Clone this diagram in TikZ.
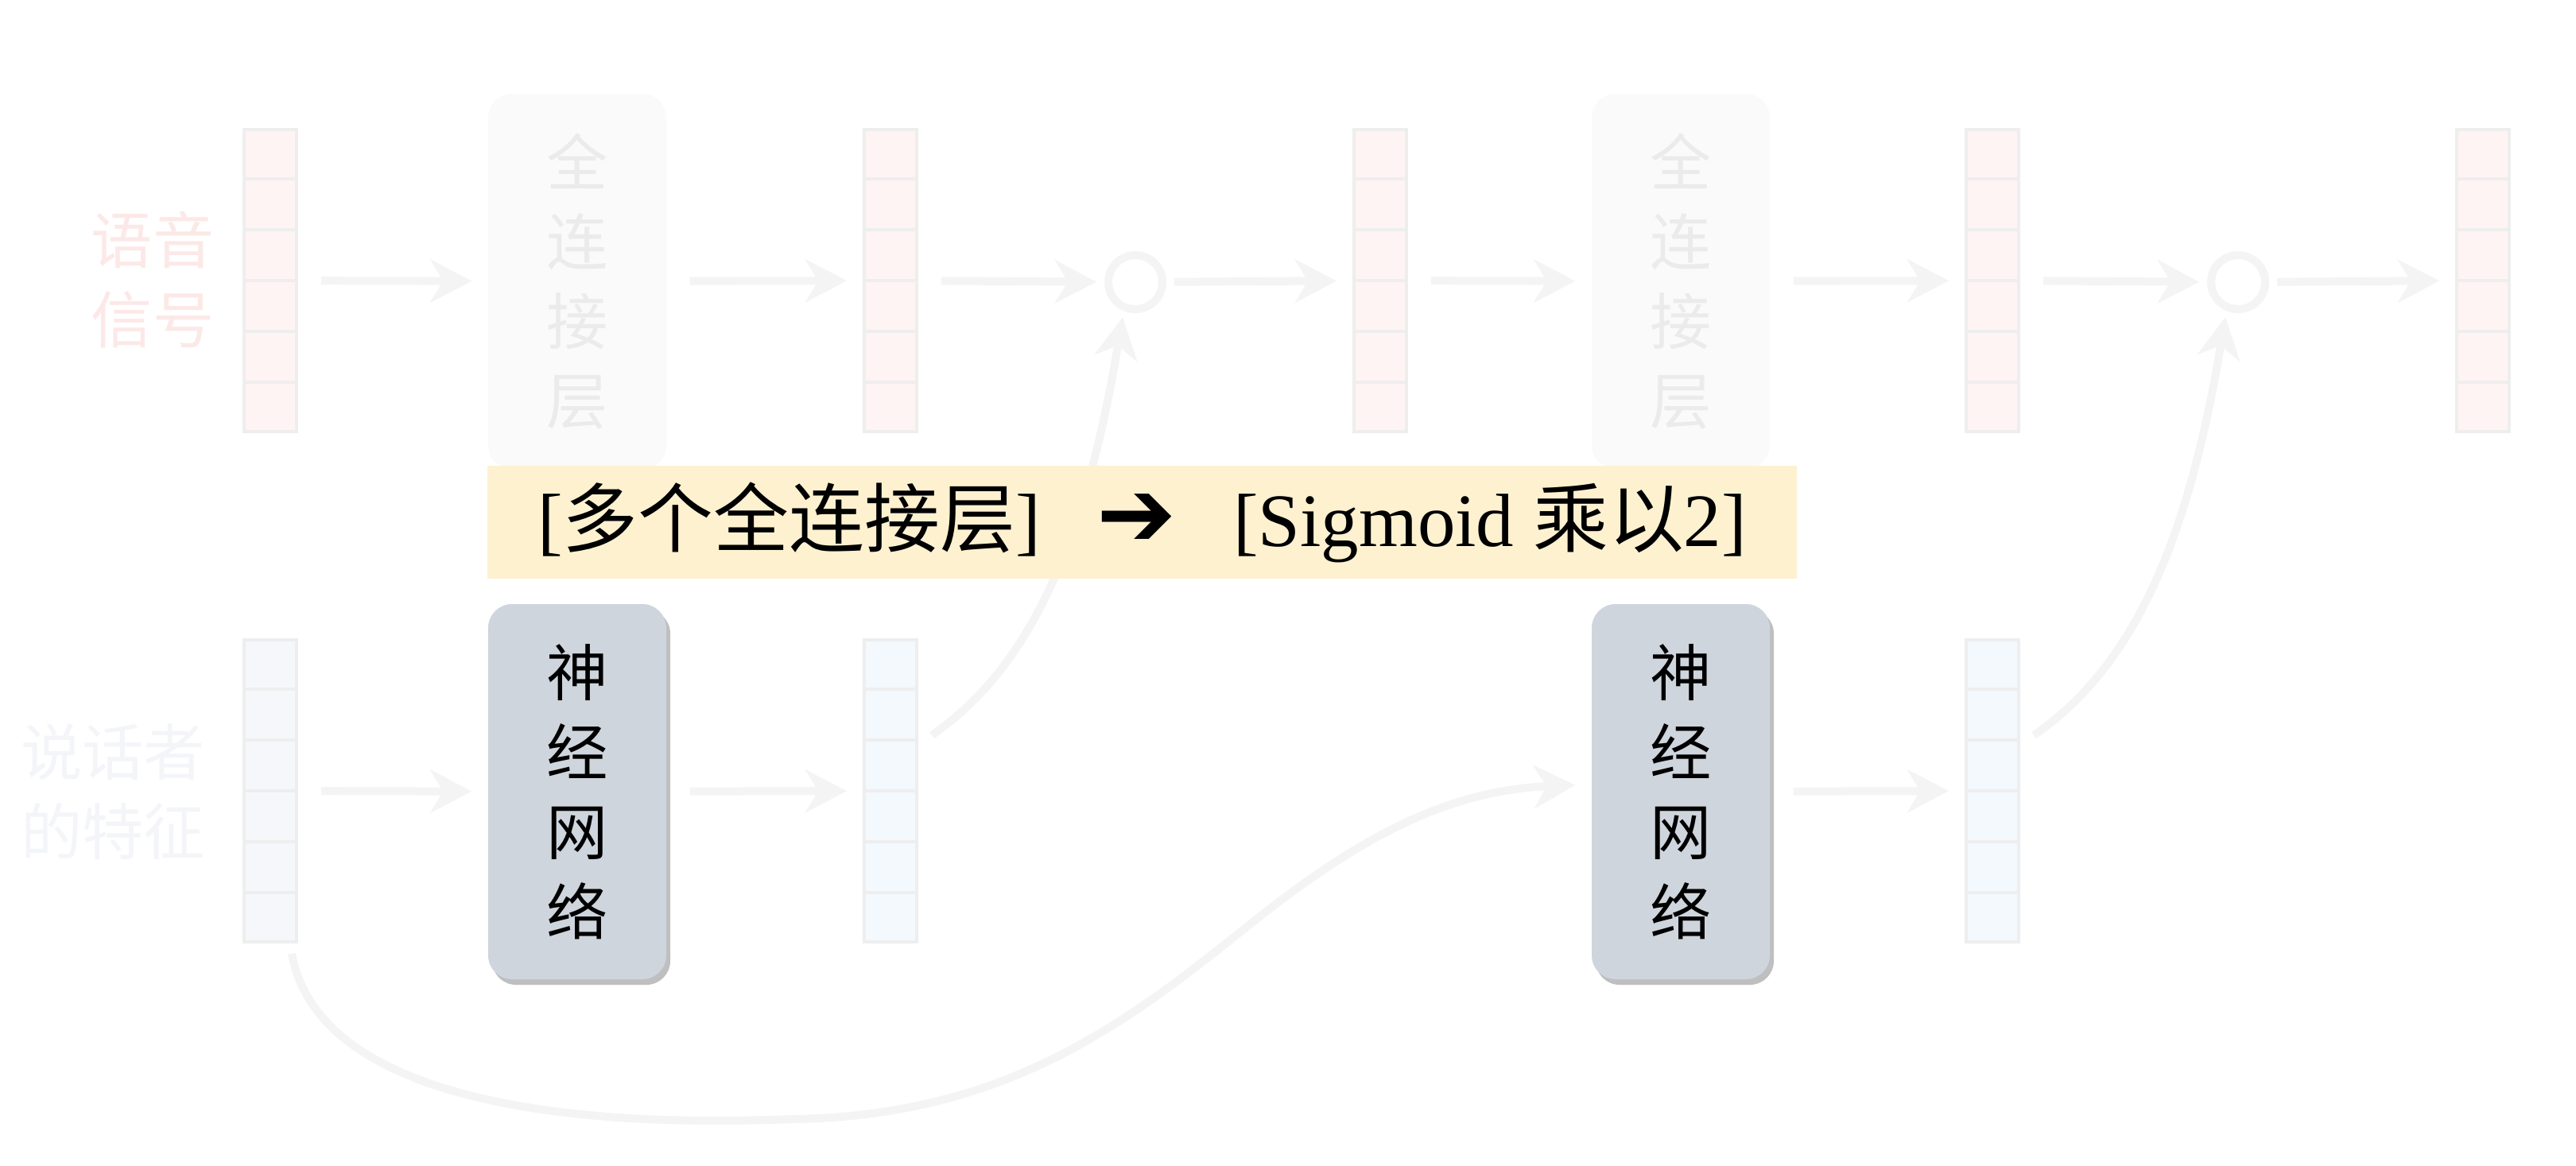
\documentclass[tikz,border=0pt]{standalone}
\usepackage{fontspec}
\setmainfont{Liberation Serif}
\newfontfamily\cjk{Noto Sans CJK SC}
\newfontfamily\symfont{DejaVu Sans}
\usetikzlibrary{arrows.meta,calc,shadows}

\definecolor{sigred}{RGB}{254,244,243}
\definecolor{sigtxt}{RGB}{252,233,231}
\definecolor{spkblue}{RGB}{245,247,251}
\definecolor{spkblue2}{RGB}{243,249,253}
\definecolor{spktxt}{RGB}{243,245,249}
\definecolor{cellline}{RGB}{238,238,238}
\definecolor{flowgray}{RGB}{244,244,244}
\definecolor{fcfill}{RGB}{250,250,250}
\definecolor{fctxt}{RGB}{235,235,235}
\definecolor{baryellow}{RGB}{253,241,208}
\definecolor{nnfill}{RGB}{207,213,221}

\tikzset{
  vecbox/.style={draw=cellline, line width=0.04cm, minimum width=0.66cm,
    minimum height=3.8cm, inner sep=0pt},
  layerbox/.style={rounded corners=0.3cm, minimum width=2.24cm, minimum height=4.72cm,
    inner sep=0pt, align=center, font=\cjk\fontsize{22}{28.5}\selectfont},
  sidelabel/.style={align=center, font=\cjk\fontsize{22}{28.5}\selectfont},
  flow/.style={draw=flowgray, line width=0.1cm,
    -{Stealth[length=5.2mm,width=5.4mm,inset=1.6mm]},
    shorten <=0.29cm, shorten >=0.2cm},
  mult/.style={circle, draw=flowgray, line width=0.1cm, minimum size=0.68cm, inner sep=0pt},
}

\begin{document}
\begin{tikzpicture}
\useasboundingbox[fill=white] (0,0) rectangle (32.4,-14.66);

\node[sidelabel, text=sigtxt] (lsig) at (1.92,-3.52) {语音\\信号};
\node[sidelabel, text=spktxt] (lspk) at (1.42,-9.96) {说话者\\的特征};

\node[vecbox, fill=sigred] (sp1) at (3.40,-3.53) {};
\node[vecbox, fill=sigred] (sp2) at (11.20,-3.53) {};
\node[vecbox, fill=sigred] (sp3) at (17.36,-3.53) {};
\node[vecbox, fill=sigred] (sp4) at (25.06,-3.53) {};
\node[vecbox, fill=sigred] (sp5) at (31.23,-3.53) {};
\node[vecbox, fill=spkblue] (spk1) at (3.40,-9.95) {};
\node[vecbox, fill=spkblue2] (spk2) at (11.20,-9.95) {};
\node[vecbox, fill=spkblue2] (spk3) at (25.06,-9.95) {};
\foreach \v in {sp1,sp2,sp3,sp4,sp5,spk1,spk2,spk3}
  \foreach \k in {1,...,5}
    \draw[cellline, line width=0.04cm] ($(\v.north west)!\k/6!(\v.south west)$)
      -- ($(\v.north east)!\k/6!(\v.south east)$);

\node[layerbox, fill=fcfill, text=fctxt] (fc1) at (7.26,-3.54) {全\\连\\接\\层};
\node[layerbox, fill=fcfill, text=fctxt] (fc2) at (21.14,-3.54) {全\\连\\接\\层};
\node[layerbox, fill=nnfill,
  drop shadow={shadow xshift=0.05cm, shadow yshift=-0.07cm, fill=black, opacity=0.25}]
  (nn1) at (7.26,-9.96) {神\\经\\网\\络};
\node[layerbox, fill=nnfill,
  drop shadow={shadow xshift=0.05cm, shadow yshift=-0.07cm, fill=black, opacity=0.25}]
  (nn2) at (21.14,-9.96) {神\\经\\网\\络};

\node[mult] (o1) at (14.28,-3.55) {};
\node[mult] (o2) at (28.15,-3.55) {};

\draw[flow] (sp1) -- (fc1);
\draw[flow] (fc1) -- (sp2);
\draw[flow, shorten >=0.1cm] (sp2) -- (o1);
\draw[flow, shorten <=0.1cm] (o1) -- (sp3);
\draw[flow] (sp3) -- (fc2);
\draw[flow] (fc2) -- (sp4);
\draw[flow, shorten >=0.1cm] (sp4) -- (o2);
\draw[flow, shorten <=0.1cm] (o2) -- (sp5);

\draw[flow] (spk1) -- (nn1);
\draw[flow] (nn1) -- (spk2);
\draw[flow] (nn2) -- (spk3);

\coordinate (c1) at ($(spk1.south east)+(-0.08,-0.13)$);
\coordinate (c2) at ($(spk2.east)+(0.17,0.70)$);
\coordinate (c3) at ($(spk3.east)+(0.17,0.70)$);
\draw[flow, shorten <=0pt] (c1) .. controls (4.00,-13.80) and (7.00,-14.20) .. (9.94,-14.08)
  .. controls (12.50,-14.05) and (14.00,-13.00) .. (15.47,-11.83)
  .. controls (16.80,-10.75) and (18.00,-9.95) .. ([yshift=0.09cm]nn2.west);
\draw[flow, shorten <=0pt, shorten >=0.08cm] (c2) .. controls (13.10,-8.30) and (13.70,-6.50) .. (o1.-112);
\draw[flow, shorten <=0pt, shorten >=0.08cm] (c3) .. controls (26.97,-8.30) and (27.57,-6.50) .. (o2.-112);

\node[fill=baryellow, minimum width=16.47cm, minimum height=1.42cm, inner sep=0pt] (bar)
  at (14.365,-6.57) {\fontsize{27}{30}\selectfont
  [{\cjk 多个全连接层}]\hspace{0.75em}{\symfont\fontsize{34}{30}\selectfont ➔}\hspace{0.75em}[Sigmoid {\cjk 乘以}2]};

\end{tikzpicture}
\end{document}
